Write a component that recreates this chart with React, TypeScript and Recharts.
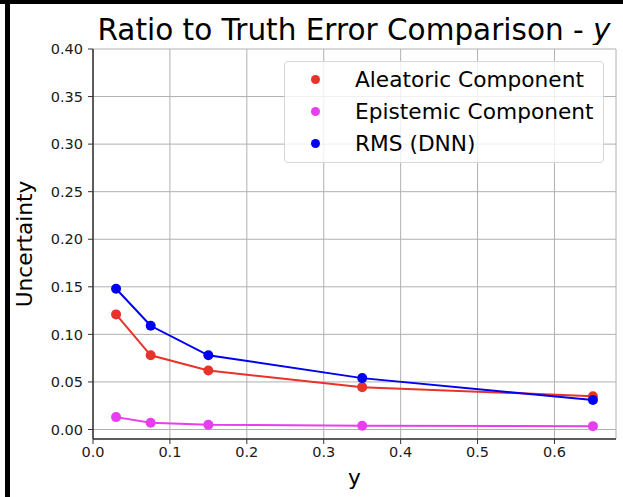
import React from 'react';
import { LineChart, Line, XAxis, YAxis, CartesianGrid, Legend, Label } from 'recharts';

const xValues = [0.03, 0.075, 0.15, 0.35, 0.65];
const aleatoric = [0.121, 0.078, 0.062, 0.0445, 0.035];
const epistemic = [0.013, 0.007, 0.005, 0.004, 0.0035];
const rms = [0.148, 0.109, 0.078, 0.054, 0.031];

const xTicks = [0, 0.1, 0.2, 0.3, 0.4, 0.5, 0.6];
const yTicks = [0, 0.05, 0.1, 0.15, 0.2, 0.25, 0.3, 0.35, 0.4];

const SERIES = [
    { key: 'aleatoric', name: 'Aleatoric Component', color: '#e8322a' },
    { key: 'epistemic', name: 'Epistemic Component', color: '#e83ef0' },
    { key: 'rms', name: 'RMS (DNN)', color: '#0000f0' },
];

const data = xValues.map((x, i) => ({
    x,
    aleatoric: aleatoric[i],
    epistemic: epistemic[i],
    rms: rms[i],
}));

const FONT = 'DejaVu Sans, sans-serif';
const tickStyle = { fill: '#1a1a1a', fontSize: 14.5, fontFamily: FONT };

function LegendBox({ payload }: any) {
    return (
        <div
            style={{
                width: 320,
                height: 102,
                boxSizing: 'border-box',
                border: '1px solid #d6d6d6',
                borderRadius: 4,
                background: 'rgba(255,255,255,0.8)',
                paddingTop: 1,
                fontFamily: FONT,
                fontSize: 21.7,
                color: '#000',
                textAlign: 'left',
            }}
        >
            {(payload || []).map((p: any) => (
                <div key={p.value} style={{ height: 32, display: 'flex', alignItems: 'center' }}>
                    <span
                        style={{
                            display: 'inline-block',
                            width: 9,
                            height: 9,
                            borderRadius: '50%',
                            background: p.color,
                            marginLeft: 26,
                            marginRight: 35,
                        }}
                    />
                    <span>{p.value}</span>
                </div>
            ))}
        </div>
    );
}

export default function App() {
    return (
        <div style={{ position: 'absolute', left: 0, top: 0, width: 623, height: 497, background: '#fff', overflow: 'hidden' }}>
            <div style={{ position: 'absolute', left: 0, top: 0, width: 623, height: 4, background: '#000' }} />
            <div style={{ position: 'absolute', left: 5, top: 0, width: 5, height: 497, background: '#000' }} />
            <svg width={623} height={45} style={{ position: 'absolute', left: 0, top: 0 }}>
                <text x={354} y={39.5} textAnchor="middle" fontFamily={FONT} fontSize={29.5} fill="#000">
                    Ratio to Truth Error Comparison - <tspan fontStyle="italic">y</tspan>
                </text>
            </svg>
            <div style={{ position: 'absolute', left: 0, top: 0 }}>
                <LineChart width={623} height={497} data={data} margin={{ top: 49, right: 7, bottom: 28, left: 33 }}>
                    <CartesianGrid stroke="#b0b0b0" strokeWidth={1} />
                    <XAxis
                        dataKey="x"
                        type="number"
                        domain={[0, 0.68]}
                        ticks={xTicks}
                        allowDataOverflow
                        tickFormatter={(v: number) => v.toFixed(1)}
                        tick={tickStyle}
                        tickSize={5}
                        tickMargin={3}
                        height={30}
                        stroke="#333"
                        strokeWidth={1.5}
                        tickLine={{ stroke: '#333', strokeWidth: 1 }}
                    >
                        <Label value="y" position="center" dy={23} style={{ fontSize: 21.7, fontFamily: FONT, fill: '#000' }} />
                    </XAxis>
                    <XAxis
                        xAxisId="top"
                        dataKey="x"
                        type="number"
                        orientation="top"
                        domain={[0, 0.68]}
                        allowDataOverflow
                        tick={false}
                        tickLine={false}
                        height={0}
                        stroke="#333"
                        strokeWidth={1.5}
                    />
                    <YAxis
                        type="number"
                        domain={[-0.01, 0.4]}
                        ticks={yTicks}
                        allowDataOverflow
                        tickFormatter={(v: number) => v.toFixed(2)}
                        tick={tickStyle}
                        tickSize={5}
                        tickMargin={5}
                        width={60}
                        stroke="#333"
                        strokeWidth={1.5}
                        tickLine={{ stroke: '#333', strokeWidth: 1 }}
                    >
                        <Label
                            value="Uncertainty"
                            angle={-90}
                            position="center"
                            dx={-39}
                            style={{ fontSize: 21.7, fontFamily: FONT, fill: '#000', textAnchor: 'middle' }}
                        />
                    </YAxis>
                    <YAxis
                        yAxisId="right"
                        orientation="right"
                        type="number"
                        domain={[-0.01, 0.4]}
                        allowDataOverflow
                        tick={false}
                        tickLine={false}
                        width={0}
                        stroke="#333"
                        strokeWidth={1.5}
                    />
                    <Legend
                        layout="horizontal"
                        align="center"
                        verticalAlign="middle"
                        content={<LegendBox />}
                        wrapperStyle={{ position: 'absolute', left: 284, top: 61, width: 320, height: 102 }}
                    />
                    {SERIES.map((s) => (
                        <Line
                            key={s.key}
                            dataKey={s.key}
                            name={s.name}
                            stroke={s.color}
                            strokeWidth={2}
                            dot={{ r: 5, fill: s.color, stroke: 'none' }}
                            activeDot={false}
                            isAnimationActive={false}
                        />
                    ))}
                </LineChart>
            </div>
        </div>
    );
}
